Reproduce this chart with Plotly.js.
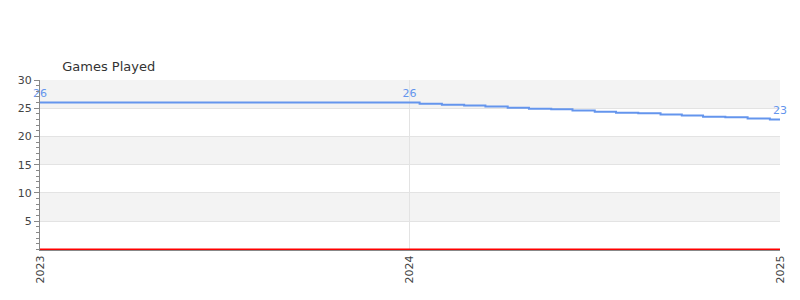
<!DOCTYPE html>
<html>
<head>
<meta charset="utf-8">
<script src="https://cdn.plot.ly/plotly-3.0.1.min.js"></script>
<style>html,body{margin:0;padding:0;background:#fff;}#chart{width:800px;height:300px;}</style>
</head>
<body>
<div id="chart"></div>
<script>
const dates = ["2023-01-01","2024-01-01","2024-01-11","2024-02-02","2024-02-24","2024-03-16","2024-04-07","2024-04-28","2024-05-20","2024-06-10","2024-07-02","2024-07-23","2024-08-14","2024-09-05","2024-09-26","2024-10-17","2024-11-08","2024-11-30","2024-12-22","2025-01-01"];
const gamesPlayed = [26,26,25.8,25.6,25.5,25.3,25.1,24.9,24.8,24.6,24.4,24.2,24.1,23.9,23.7,23.5,23.4,23.2,23.0,23];
const pointLabels = ["26","26","","","","","","","","","","","","","","","","","","23"];
const baseDates = ["2023-01-01","2025-01-01"];
const baseValues = [0,0];
const yTicks = [5,10,15,20,25,30];
const xTicks = ["2023-01-01","2024-01-01","2025-01-01"];
const xTickLabels = ["2023","2024","2025"];
const bands = [[25,30],[15,20],[5,10]];

const font = "DejaVu Sans, sans-serif";
const shapes = bands.map(b => ({
  type:"rect", xref:"paper", yref:"y", x0:0, x1:1, y0:b[0], y1:b[1],
  fillcolor:"#f3f3f3", line:{width:0}, layer:"below"
}));

const traces = [
  {
    x: baseDates, y: baseValues, type:"scatter", mode:"lines",
    line:{color:"#ff0000", width:2}, hoverinfo:"skip", showlegend:false
  },
  {
    x: dates, y: gamesPlayed, type:"scatter", mode:"lines+markers+text",
    line:{color:"#6495ED", width:2, shape:"hv"},
    marker:{size:3, opacity:0, color:"#6495ED"},
    text: pointLabels, textposition:"top center",
    textfont:{family:font, size:11, color:"#6495ED"},
    cliponaxis:false, showlegend:false
  }
];

const layout = {
  width:800, height:300,
  margin:{l:40, r:20, t:80, b:50},
  paper_bgcolor:"#fff", plot_bgcolor:"#fff",
  font:{family:font, size:11, color:"#444"},
  title:{text:"Games Played", font:{family:font, size:13, color:"#333"},
    xref:"paper", x:0.03, xanchor:"left", yref:"container", y:0.777, yanchor:"middle"},
  shapes: shapes,
  xaxis:{
    type:"date", range:["2023-01-01","2025-01-01"],
    tickvals:xTicks, ticktext:xTickLabels, tickangle:-90,
    showgrid:true, gridcolor:"#e3e3e3", zeroline:false,
    showline:true, linecolor:"#888", linewidth:1, layer:"below traces",
    ticks:"", tickfont:{family:font, size:11, color:"#444"}
  },
  yaxis:{
    range:[-0.1,30], tickvals:yTicks,
    showgrid:true, gridcolor:"#e3e3e3", zeroline:false,
    showline:true, linecolor:"#888", linewidth:1,
    ticks:"outside", ticklen:5, tickcolor:"#888",
    minor:{dtick:1, ticks:"outside", ticklen:3, tickcolor:"#888", showgrid:false},
    tickfont:{family:font, size:11, color:"#444"}
  }
};

Plotly.newPlot("chart", traces, layout, {displayModeBar:false, staticPlot:true});
</script>
</body>
</html>
